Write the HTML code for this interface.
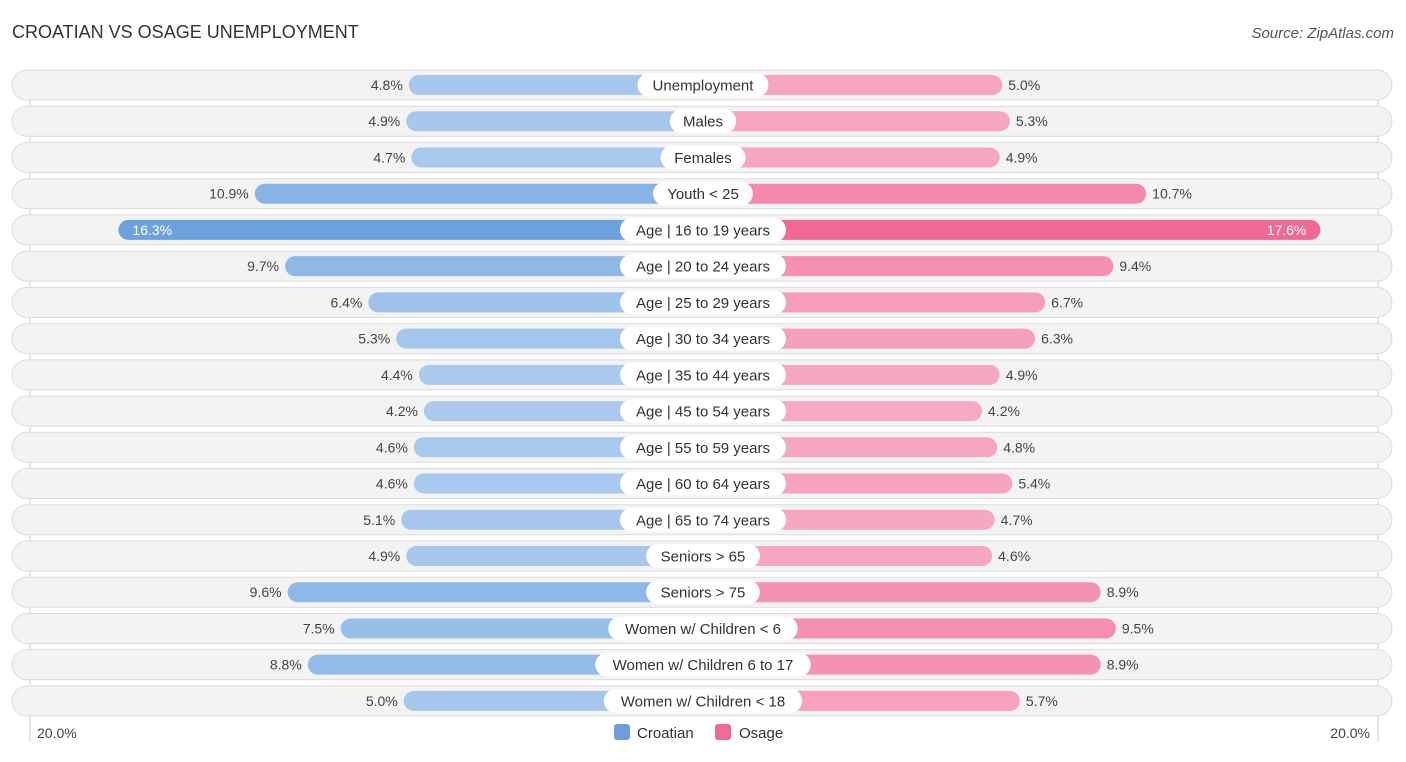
<!DOCTYPE html>
<html><head><meta charset="utf-8"><style>
body{margin:0;background:#fff;width:1406px;height:757px;overflow:hidden;font-family:"Liberation Sans",sans-serif}
</style></head><body>
<svg id="c" width="1406" height="757" xmlns="http://www.w3.org/2000/svg">
<text x="12" y="38" font-size="18" fill="#333">CROATIAN VS OSAGE UNEMPLOYMENT</text>
<text x="1394" y="38" font-size="15" fill="#555" font-style="italic" text-anchor="end">Source: ZipAtlas.com</text>
<line x1="30" y1="70" x2="30" y2="742" stroke="#ccc"/>
<line x1="1378" y1="70" x2="1378" y2="742" stroke="#ccc"/>
<g id="rows"></g>
<text x="37" y="738" font-size="14" fill="#444">20.0%</text>
<text x="1370" y="738" font-size="14" fill="#444" text-anchor="end">20.0%</text>
<rect x="614" y="724" width="16" height="16" rx="3" fill="#6a9fdb"/>
<text x="637" y="738" font-size="15" fill="#333">Croatian</text>
<rect x="715" y="724" width="16" height="16" rx="3" fill="#f06b96"/>
<text x="739" y="738" font-size="15" fill="#333">Osage</text>
</svg>
<script>
const categories=["Unemployment","Males","Females","Youth < 25","Age | 16 to 19 years","Age | 20 to 24 years","Age | 25 to 29 years","Age | 30 to 34 years","Age | 35 to 44 years","Age | 45 to 54 years","Age | 55 to 59 years","Age | 60 to 64 years","Age | 65 to 74 years","Seniors > 65","Seniors > 75","Women w/ Children < 6","Women w/ Children 6 to 17","Women w/ Children < 18"];
const croatian=[4.8,4.9,4.7,10.9,16.3,9.7,6.4,5.3,4.4,4.2,4.6,4.6,5.1,4.9,9.6,7.5,8.8,5.0];
const osage=[5.0,5.3,4.9,10.7,17.6,9.4,6.7,6.3,4.9,4.2,4.8,5.4,4.7,4.6,8.9,9.5,8.9,5.7];
const cx=703, off=173, k=25.25;
const len=v=>off+k*v;
function mix(a,b,t){return 'rgb('+a.map((x,i)=>Math.round(x+(b[i]-x)*t)).join(',')+')';}
const cL=[172,202,238],cS=[100,158,220],oL=[247,170,196],oS=[240,104,148];
const g=document.getElementById('rows');
const NS="http://www.w3.org/2000/svg";
function el(t,a,p){const e=document.createElementNS(NS,t);for(const k in a)e.setAttribute(k,a[k]);(p||g).appendChild(e);return e;}
const vmax=Math.max(...croatian,...osage);
categories.forEach((c,i)=>{
  const y=85+i*36.23;
  const bg=el('rect',{x:12,y:y-15,width:1380,height:30,rx:15,fill:'#f3f3f3',stroke:'#dcdcdc'});
  
  
  const a=croatian[i],b=osage[i];
  const ta=Math.max(0,(a-4)/(vmax-4)),tb=Math.max(0,(b-4)/(vmax-4));
  const r1=el('rect',{x:cx-len(a),y:y-10,width:len(a),height:20,rx:10,fill:mix(cL,cS,ta)});
  
  
  const r2=el('rect',{x:cx,y:y-10,width:len(b),height:20,rx:10,fill:mix(oL,oS,tb)});
  
  
  const inA=a>14,inB=b>14;
  const t1=el('text',{x:inA?cx-len(a)+14:cx-len(a)-6,y:y+5,'font-size':14,fill:inA?'#fff':'#444','text-anchor':inA?'start':'end'});
  t1.textContent=a.toFixed(1)+'%';
  
  
  const t2=el('text',{x:inB?cx+len(b)-14:cx+len(b)+6,y:y+5,'font-size':14,fill:inB?'#fff':'#444','text-anchor':inB?'end':'start'});
  t2.textContent=b.toFixed(1)+'%';
  
  
  const lb=el('rect',{x:cx,y:y-12,width:10,height:24,rx:12,fill:'#fff'});
  
  
  const lt=el('text',{x:cx,y:y+5.5,'font-size':15,fill:'#333','text-anchor':'middle'});
  lt.textContent=c;
  
  
  const lw=lt.getComputedTextLength()*1.06+24;
  lb.setAttribute('x',cx-lw/2);
  lb.setAttribute('width',lw);
});
</script>
</body></html>
